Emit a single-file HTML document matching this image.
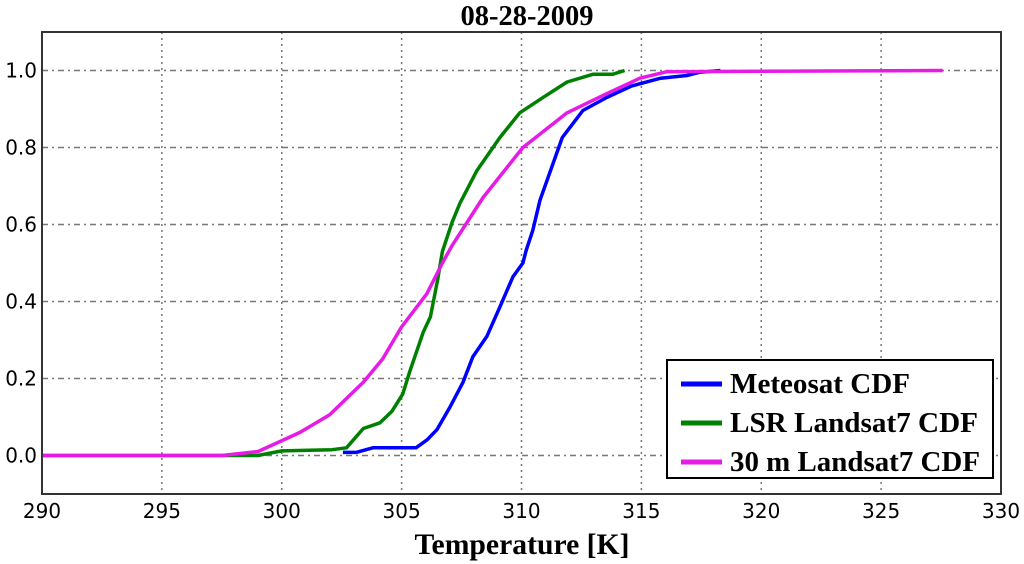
<!DOCTYPE html>
<html><head><meta charset="utf-8"><style>
html,body{margin:0;padding:0;background:#fff;}
svg{display:block;}
</style></head><body>
<svg id="chart" width="1024" height="564" xmlns="http://www.w3.org/2000/svg">
<text x="527" y="25" text-anchor="middle" font-family="Liberation Serif, serif" font-weight="bold" font-size="28" textLength="133" lengthAdjust="spacingAndGlyphs">08-28-2009</text>
<g id="grid"></g>
<g id="ticks"></g>
<g id="series"></g>
<rect x="42" y="32" width="959" height="462" fill="none" stroke="#333" stroke-width="2"/>
<text x="522" y="554" text-anchor="middle" font-family="Liberation Serif, serif" font-weight="bold" font-size="30" textLength="215" lengthAdjust="spacingAndGlyphs">Temperature [K]</text>
<g>
<rect x="667" y="360" width="326" height="118" fill="#fff" stroke="#000" stroke-width="2"/>
<g><line x1="681" y1="384" x2="722" y2="384" stroke="#0000ff" stroke-width="5"/><text x="730" y="393" font-family="Liberation Serif, serif" font-weight="bold" font-size="28" textLength="180" lengthAdjust="spacingAndGlyphs">Meteosat CDF</text></g>
<g><line x1="681" y1="423" x2="722" y2="423" stroke="#008000" stroke-width="5"/><text x="730" y="432" font-family="Liberation Serif, serif" font-weight="bold" font-size="28" textLength="248" lengthAdjust="spacingAndGlyphs">LSR Landsat7 CDF</text></g>
<g><line x1="681" y1="462" x2="722" y2="462" stroke="#e61ce6" stroke-width="5"/><text x="730" y="471" font-family="Liberation Serif, serif" font-weight="bold" font-size="28" textLength="250" lengthAdjust="spacingAndGlyphs">30 m Landsat7 CDF</text></g>
</g>
</svg>
<script>
const xTicks=[290,295,300,305,310,315,320,325,330];
const yTicks=[0.0,0.2,0.4,0.6,0.8,1.0];
const meteosatX=[302.55,303.1,303.8,305.6,306.05,306.47,307.0,307.56,307.97,308.56,309.1,309.64,310.06,310.2,310.47,310.77,311.7,312.56,313.56,314.6,315.8,316.9,317.4,318.3];
const meteosatY=[0.008,0.008,0.02,0.02,0.04,0.067,0.124,0.19,0.256,0.31,0.386,0.464,0.50,0.534,0.585,0.663,0.826,0.896,0.93,0.96,0.98,0.987,0.995,1.0];
const lsrX=[290,298.5,299.0,300.0,302.1,302.7,303.4,304.1,304.6,305.05,305.35,305.9,306.2,306.5,306.7,307.1,307.43,308.14,309.1,309.93,310.9,311.9,312.98,313.8,314.3];
const lsrY=[0,0,0.0,0.012,0.015,0.02,0.07,0.085,0.115,0.16,0.22,0.32,0.36,0.456,0.53,0.605,0.655,0.74,0.826,0.89,0.93,0.97,0.99,0.99,1.0];
const m30X=[290,297.5,299.0,299.92,300.76,302.0,303.4,304.2,305.0,306.05,306.7,307.1,308.4,310.06,311.9,313.56,314.94,316.06,327.57];
const m30Y=[0,0,0.01,0.036,0.06,0.106,0.19,0.25,0.334,0.42,0.50,0.545,0.67,0.80,0.89,0.94,0.98,0.997,1.0];
const NS='http://www.w3.org/2000/svg';
const L=42,R=1001,T=32,B=494;
function xs(v){return L+(v-290)/40*(R-L);}
function ys(v){return B-(v+0.1)/1.2*(B-T);}
function mk(tag,attrs){const e=document.createElementNS(NS,tag);for(const k in attrs)e.setAttribute(k,attrs[k]);return e;}
const grid=document.getElementById('grid'),ticks=document.getElementById('ticks'),series=document.getElementById('series');
xTicks.forEach(t=>{
  const x=xs(t);
  if(t>290&&t<330){const g=mk('line',{x1:x,y1:T,x2:x,y2:B,stroke:'#777','stroke-width':1.5,'stroke-dasharray':'2,4,2,4'});
  
  
  grid.appendChild(g);}
  const lb=mk('text',{x:x,y:518,'text-anchor':'middle','font-family':'DejaVu Sans, sans-serif','font-size':20});
  lb.textContent=String(t);
  
  
  ticks.appendChild(lb);
});
yTicks.forEach(t=>{
  const y=ys(t);
  const g=mk('line',{x1:L,y1:y,x2:R,y2:y,stroke:'#777','stroke-width':1.5,'stroke-dasharray':'6,4,2,4'});
  
  
  grid.appendChild(g);
  const lb=mk('text',{x:37,y:y+7,'text-anchor':'end','font-family':'DejaVu Sans, sans-serif','font-size':20});
  lb.textContent=t.toFixed(1);
  
  
  ticks.appendChild(lb);
});
function line(X,Y,color,name){
  const d=X.map((v,i)=>(i?'L':'M')+xs(v).toFixed(1)+','+ys(Y[i]).toFixed(1)).join(' ');
  const p=mk('path',{d:d,fill:'none',stroke:color,'stroke-width':3.5,'stroke-linejoin':'round'});
  
  
  series.appendChild(p);
}
line(meteosatX,meteosatY,'#0000ff','meteosat-cdf-line');
line(lsrX,lsrY,'#008000','lsr-landsat7-cdf-line');
line(m30X,m30Y,'#e61ce6','30m-landsat7-cdf-line');
</script>
</body></html>
